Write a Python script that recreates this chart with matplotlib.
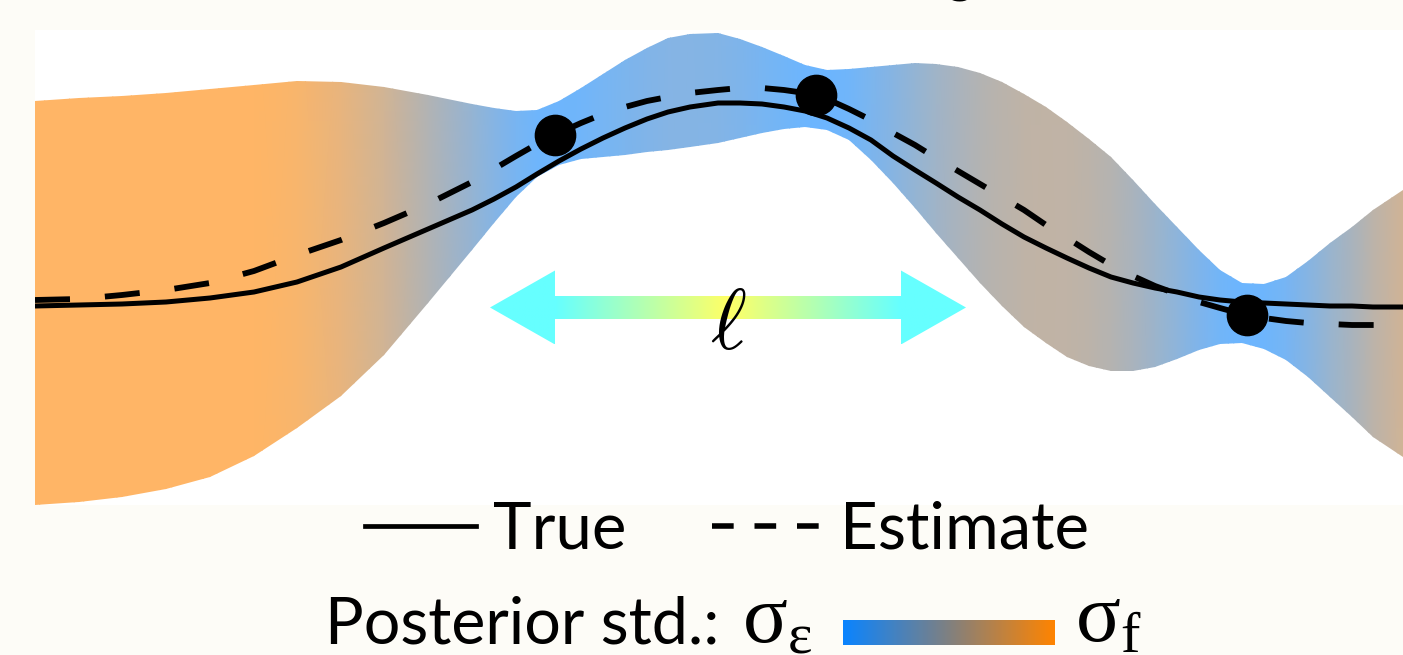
import numpy as np
import matplotlib
matplotlib.use('agg')
from matplotlib import pyplot as plt
from matplotlib.colors import LinearSegmentedColormap, Normalize
from matplotlib.lines import Line2D
from matplotlib.path import Path

plt.rcParams['font.family'] = ['Lato', 'DejaVu Sans']
plt.rcParams['mathtext.fontset'] = 'cm'

# inputs where the curves are evaluated
x = np.array([0.00, 0.44, 0.87, 1.31, 1.75, 2.19, 2.62, 3.06, 3.49, 3.93,
              4.37, 4.59, 4.81, 5.02, 5.24, 5.46, 5.68, 5.90, 6.12, 6.33,
              6.55, 6.83, 7.05, 7.27, 7.49, 7.70, 7.92, 8.14, 8.36, 8.58,
              8.80, 9.01, 9.23, 9.45, 9.67, 9.89, 10.11, 10.32, 10.54, 10.76,
              10.98, 11.20, 11.42, 11.64, 11.85, 12.07, 12.29, 12.51, 12.73,
              12.95, 13.17, 13.38, 13.68])
# true function
true_f = np.array([-0.38, -0.37, -0.36, -0.34, -0.30, -0.24, -0.14, 0.01, 0.20, 0.39,
                   0.58, 0.69, 0.81, 0.94, 1.07, 1.19, 1.30, 1.40, 1.49, 1.56,
                   1.61, 1.65, 1.65, 1.64, 1.61, 1.57, 1.50, 1.40, 1.28, 1.12,
                   0.98, 0.85, 0.71, 0.58, 0.44, 0.31, 0.20, 0.10, 0.00, -0.09,
                   -0.15, -0.20, -0.24, -0.29, -0.32, -0.34, -0.35, -0.36, -0.37,
                   -0.38, -0.38, -0.39, -0.39])
# posterior mean (estimate)
post_mean = np.array([-0.32, -0.31, -0.27, -0.22, -0.15, -0.03, 0.13, 0.28, 0.45, 0.64,
                      0.86, 0.99, 1.12, 1.24, 1.35, 1.45, 1.54, 1.61, 1.67, 1.71,
                      1.75, 1.78, 1.80, 1.80, 1.78, 1.75, 1.69, 1.59, 1.48, 1.35,
                      1.23, 1.10, 0.97, 0.84, 0.71, 0.58, 0.43, 0.30, 0.16, 0.03,
                      -0.08, -0.18, -0.26, -0.34, -0.40, -0.46, -0.50, -0.53, -0.55,
                      -0.56, -0.57, -0.57, -0.57])
# credible band edges
band_hi = np.array([1.67, 1.70, 1.72, 1.75, 1.79, 1.83, 1.87, 1.86, 1.81, 1.73,
                    1.64, 1.60, 1.57, 1.58, 1.67, 1.80, 1.94, 2.08, 2.20, 2.30,
                    2.34, 2.35, 2.29, 2.21, 2.12, 2.03, 1.98, 1.99, 2.01, 2.03,
                    2.05, 2.04, 2.01, 1.95, 1.86, 1.74, 1.61, 1.46, 1.29, 1.11,
                    0.88, 0.64, 0.41, 0.18, -0.02, -0.15, -0.16, -0.09, 0.07,
                    0.25, 0.41, 0.58, 0.78])
band_lo = np.array([-2.37, -2.34, -2.29, -2.21, -2.09, -1.88, -1.60, -1.28, -0.87, -0.35,
                    0.18, 0.45, 0.71, 0.91, 1.03, 1.09, 1.11, 1.13, 1.16, 1.18,
                    1.21, 1.25, 1.30, 1.35, 1.39, 1.41, 1.38, 1.28, 1.08, 0.85,
                    0.60, 0.35, 0.10, -0.15, -0.38, -0.59, -0.75, -0.89, -0.98, -1.03,
                    -1.03, -0.99, -0.91, -0.82, -0.76, -0.75, -0.81, -0.92, -1.09,
                    -1.29, -1.49, -1.69, -1.89])
# noisy observations
obs_x = [5.20, 7.81, 12.12]
obs_y = [1.33, 1.73, -0.47]

# lengthscale arrow
ell_x0, ell_x1, ell_y = 4.55, 9.31, -0.395

BG = '#fdfcf7'
W, H = 1403, 655
std_colors = ['#0a84ff', '#808080', '#ff8400']
std_cmap = LinearSegmentedColormap.from_list('std', std_colors)
# same colours seen through 60% opacity on white
band_cmap = LinearSegmentedColormap.from_list('band', ['#6cb5ff', '#b3b3b3', '#ffb566'])
ell_cmap = LinearSegmentedColormap.from_list('ell', ['#ffff66', '#66ffff'])


def fx(px):
    return px / W


def fy(py):
    return 1 - py / H


fig = plt.figure(figsize=(W / 100, H / 100), dpi=100, facecolor=BG)
ax = fig.add_axes([fx(35), fy(505), fx(1403 - 35), (505 - 30) / H])
ax.set_facecolor('white')
for s in ax.spines.values():
    s.set_visible(False)
ax.set_xticks([])
ax.set_yticks([])

# band coloured by posterior std
std = (band_hi - band_lo) / 2
band = ax.fill_between(x, band_lo, band_hi, facecolor='none', edgecolor='none')
X = np.vstack([x, x])
Y = np.vstack([np.full_like(x, -3), np.full_like(x, 3)])
C = np.vstack([std, std])
mesh = ax.pcolormesh(X, Y, C, shading='gouraud', cmap=band_cmap,
                     norm=Normalize(0.3, 1.8), zorder=1)
mesh.set_clip_path(band.get_paths()[0], transform=ax.transData)

# double arrow for the lengthscale
head_len, head_h, shaft_h = 0.65, 0.37, 0.115
xc = (ell_x0 + ell_x1) / 2
verts = [(ell_x0, ell_y),
         (ell_x0 + head_len, ell_y + head_h),
         (ell_x0 + head_len, ell_y + shaft_h),
         (ell_x1 - head_len, ell_y + shaft_h),
         (ell_x1 - head_len, ell_y + head_h),
         (ell_x1, ell_y),
         (ell_x1 - head_len, ell_y - head_h),
         (ell_x1 - head_len, ell_y - shaft_h),
         (ell_x0 + head_len, ell_y - shaft_h),
         (ell_x0 + head_len, ell_y - head_h),
         (ell_x0, ell_y)]
arrow_path = Path(verts, closed=True)
t = np.linspace(ell_x0, ell_x1, 400)
grad = np.clip(np.abs(t - xc) / (xc - ell_x0 - head_len), 0, 1)[None, :]
im = ax.imshow(grad, extent=[ell_x0, ell_x1, ell_y - head_h, ell_y + head_h],
               cmap=ell_cmap, vmin=0, vmax=1, aspect='auto',
               interpolation='bilinear', zorder=2)
im.set_clip_path(arrow_path, transform=ax.transData)
ax.text(xc, ell_y - 0.17, r'$\ell$', fontsize=62, ha='center', va='center', zorder=5)

ax.plot(x, true_f, color='black', lw=3.6, zorder=3)
ax.plot(x, post_mean, color='black', lw=4.2, dashes=(6, 6), zorder=3)
ax.plot(obs_x, obs_y, 'o', color='black', ms=29, zorder=4)

ax.set_xlim(0, 13.68)
ax.set_ylim(-2.37, 2.38)

# legend rows
handles = [Line2D([], [], color='black', lw=3.4),
           Line2D([], [], color='black', lw=4.0, dashes=(3.9, 3.75))]
fig.legend(handles, ['True', 'Estimate'], ncol=2, loc='center',
           bbox_to_anchor=(fx(727), fy(530)), frameon=False, fontsize=47,
           handlelength=1.7, handletextpad=0.27, columnspacing=1.3)

fig.text(fx(325), fy(643), 'Posterior std.:', fontsize=46.5, va='baseline')
fig.text(fx(742), fy(642), r'$\mathregular{\sigma_\varepsilon}$',
         family='Liberation Serif', fontsize=60, va='baseline')
fig.text(fx(1075), fy(642), r'$\mathregular{\sigma_f}$',
         family='Liberation Serif', fontsize=60, va='baseline')
cax = fig.add_axes([fx(843), fy(645), fx(212), 25 / H])
cax.imshow(np.linspace(0, 1, 256)[None, :], cmap=std_cmap, aspect='auto')
cax.set_axis_off()

fig.text(fx(1243), fy(-8), 'Nonlinear regression (GP)', fontsize=37,
         ha='right', va='baseline')

fig.savefig('out.png', dpi=100, facecolor=BG)
